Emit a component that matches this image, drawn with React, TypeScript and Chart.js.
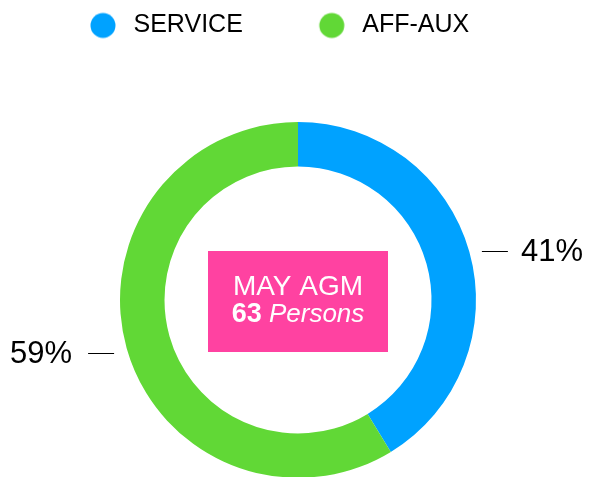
import React, { useEffect, useRef } from 'react';
import { Chart, registerables } from 'chart.js';

Chart.register(...registerables);

// ---- data ----
const categories = ['SERVICE', 'AFF-AUX'];
const counts = [26, 37];
const sliceColors = ['#00A2FF', '#61D836'];
const centerTitle = 'MAY AGM';
const centerUnit = 'Persons';
const centerBoxColor = '#FF42A1';

const FONT = '"Liberation Sans", Arial, Helvetica, sans-serif';

// legend marker: a coloured dot inside a wider transparent canvas
const DOT_W = 94;
const DOT_H = 28;
function makeDot(color: string) {
  const c = document.createElement('canvas');
  c.width = DOT_W;
  c.height = DOT_H;
  const ctx = c.getContext('2d')!;
  ctx.fillStyle = color;
  ctx.beginPath();
  ctx.arc(DOT_W / 2 + 33, DOT_H / 2, 12.5, 0, Math.PI * 2);
  ctx.fill();
  return c;
}

const legendGap = {
  id: 'legendGap',
  beforeInit(chart: any) {
    const legend = chart.legend;
    if (!legend) return;
    const orig = legend.fit;
    legend.fit = function () {
      orig.call(this);
      this.height += 74;
    };
  },
};

const centerBox = {
  id: 'centerBox',
  afterDatasetsDraw(chart: any) {
    const meta = chart.getDatasetMeta(0);
    const arc = meta.data[0];
    if (!arc) return;
    const { x, y } = arc;
    const ctx = chart.ctx;
    ctx.save();
    const bw = 180;
    const bh = 101;
    ctx.fillStyle = centerBoxColor;
    ctx.fillRect(x - bw / 2, y + 1.5 - bh / 2, bw, bh);
    ctx.fillStyle = '#ffffff';
    ctx.textBaseline = 'alphabetic';
    ctx.textAlign = 'center';
    ctx.font = `28px ${FONT}`;
    ctx.fillText(centerTitle, x, y - 5);
    const total = counts.reduce((a, b) => a + b, 0);
    const numText = String(total);
    ctx.font = `bold 27px ${FONT}`;
    const wNum = ctx.measureText(numText).width;
    ctx.font = `26px ${FONT}`;
    const wSp = ctx.measureText(' ').width;
    ctx.font = `italic 26px ${FONT}`;
    const wUnit = ctx.measureText(centerUnit).width;
    const totalW = wNum + wSp + wUnit;
    let sx = x - totalW / 2;
    ctx.textAlign = 'left';
    ctx.font = `bold 27px ${FONT}`;
    ctx.fillText(numText, sx, y + 22);
    sx += wNum + wSp;
    ctx.font = `italic 26px ${FONT}`;
    ctx.fillText(centerUnit, sx, y + 22);
    ctx.restore();
  },
};

const outLabels = {
  id: 'outLabels',
  afterDatasetsDraw(chart: any) {
    const meta = chart.getDatasetMeta(0);
    const ctx = chart.ctx;
    const data = chart.data.datasets[0].data as number[];
    const total = data.reduce((a, b) => a + b, 0);
    ctx.save();
    ctx.font = `31px ${FONT}`;
    ctx.fillStyle = '#000000';
    ctx.strokeStyle = '#000000';
    ctx.lineWidth = 1;
    ctx.textBaseline = 'middle';
    meta.data.forEach((arc: any, i: number) => {
      const mid = (arc.startAngle + arc.endAngle) / 2;
      const R = arc.outerRadius + 12;
      const ax = arc.x + Math.cos(mid) * R;
      const ay = Math.round(arc.y + Math.sin(mid) * R + 2) + 0.5;
      const right = Math.cos(mid) >= 0;
      const dir = right ? 1 : -1;
      ctx.beginPath();
      ctx.moveTo(ax + dir * 1, ay);
      ctx.lineTo(ax + dir * 27, ay);
      ctx.stroke();
      ctx.textAlign = right ? 'left' : 'right';
      const pct = Math.round((data[i] / total) * 100) + '%';
      ctx.fillText(pct, ax + dir * (right ? 40 : 43), ay + 1);
    });
    ctx.restore();
  },
};

export default function App() {
  const ref = useRef<HTMLCanvasElement | null>(null);

  useEffect(() => {
    if (!ref.current) return;
    const chart = new Chart(ref.current, {
      type: 'doughnut',
      data: {
        labels: categories,
        datasets: [
          {
            data: counts,
            backgroundColor: sliceColors,
            borderWidth: 0,
            hoverOffset: 0,
          },
        ],
      },
      options: {
        animation: false,
        responsive: true,
        maintainAspectRatio: false,
        cutout: '75%',
        layout: { padding: { left: 6, right: 0, top: 0, bottom: 10 } },
        plugins: {
          tooltip: { enabled: false },
          legend: {
            position: 'top',
            align: 'start',
            labels: {
              usePointStyle: true,
              pointStyleWidth: 102,
              padding: 5,
              color: '#000000',
              font: { size: 25, family: FONT },
              generateLabels(chart: any) {
                const base = (Chart as any).overrides.doughnut.plugins.legend.labels.generateLabels(chart);
                return base.map((item: any, i: number) => ({
                  ...item,
                  pointStyle: makeDot(sliceColors[i]),
                }));
              },
            },
          },
        },
      },
      plugins: [legendGap, centerBox, outLabels],
    });
    return () => chart.destroy();
  }, []);

  return (
    <>
      <style>{'html,body{overflow:hidden;}'}</style>
      <div style={{ position: 'relative', height: 480 }}>
        <canvas ref={ref} />
      </div>
    </>
  );
}
